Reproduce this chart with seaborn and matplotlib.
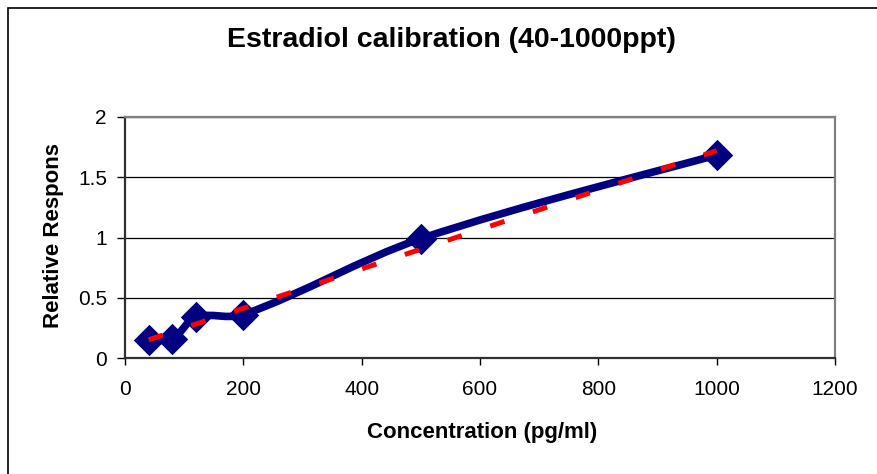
import numpy as np
import matplotlib
matplotlib.use('Agg')
import matplotlib.pyplot as plt
from matplotlib.path import Path
from matplotlib.patches import PathPatch, Rectangle
import seaborn as sns

# Data
concentration = [40, 80, 120, 200, 500, 1000]
response = [0.15, 0.16, 0.34, 0.36, 0.99, 1.685]
x_ticks = [0, 200, 400, 600, 800, 1000, 1200]
y_ticks = [0, 0.5, 1, 1.5, 2]
y_tick_labels = ['0', '0.5', '1', '1.5', '2']

sns.set_style('white')
plt.rcParams['font.family'] = ['Liberation Sans', 'DejaVu Sans']
plt.rcParams.update({'text.color': 'black', 'axes.labelcolor': 'black',
                     'xtick.color': 'black', 'ytick.color': 'black'})

navy = '#000080'

fig = plt.figure(figsize=(8.77, 4.74), dpi=100)
ax = fig.add_axes([125 / 877, 116 / 474, 710 / 877, 241 / 474])
ax.set_xlim(0, 1200)
ax.set_ylim(0, 2)

# Smoothed line (Excel-like bezier), tangents scaled by neighbouring segment lengths in screen space
sx, sy = 710 / 1200, 241 / 2
pts = np.column_stack([concentration, response]).astype(float)
scr = pts * [sx, sy]
n = len(pts)
seg = np.hypot(*np.diff(scr, axis=0).T)
verts = [pts[0]]
codes = [Path.MOVETO]
for i in range(n - 1):
    a = pts[max(i - 1, 0)]
    b = pts[min(i + 2, n - 1)]
    d_prev = seg[i - 1] if i > 0 else seg[i]
    d_next = seg[i + 1] if i < n - 2 else seg[i]
    k1 = seg[i] / (d_prev + seg[i]) / 3
    k2 = seg[i] / (seg[i] + d_next) / 3
    verts += [pts[i] + (pts[i + 1] - a) * k1, pts[i + 1] - (b - pts[i]) * k2, pts[i + 1]]
    codes += [Path.CURVE4] * 3
ax.add_patch(PathPatch(Path(verts, codes), facecolor='none', edgecolor=navy,
                       lw=5.5, capstyle='round', joinstyle='round', zorder=2))

# Markers
sns.scatterplot(x=concentration, y=response, marker='D', s=16 ** 2,
                color=navy, edgecolor=navy, linewidth=0, zorder=3, ax=ax)

# Linear trendline
sns.regplot(x=concentration, y=response, scatter=False, ci=None, truncate=True,
            line_kws=dict(color='red', lw=3.6, ls=(0, (3, 6)), zorder=4), ax=ax)

ax.set_xlim(0, 1200)
ax.set_ylim(0, 2)
ax.set_xticks(x_ticks)
ax.set_yticks(y_ticks)
ax.set_yticklabels(y_tick_labels)
ax.tick_params(axis='both', direction='out', labelsize=15, colors='black')
ax.tick_params(axis='y', length=6, width=1, pad=7, left=True)
ax.tick_params(axis='x', length=5, width=1, pad=11, bottom=True)
ax.grid(axis='y', color='black', lw=0.9)
ax.grid(axis='x', visible=False)
ax.set_axisbelow(True)

for side in ['top', 'right']:
    ax.spines[side].set_color('#808080')
    ax.spines[side].set_linewidth(1.6)
for side in ['left', 'bottom']:
    ax.spines[side].set_color('#303030')
    ax.spines[side].set_linewidth(1.6)

ax.set_xlabel('Concentration (pg/ml)', fontsize=16, fontweight='bold')
ax.xaxis.label.set_va('center')
ax.xaxis.set_label_coords(0.503, -0.311)
ax.set_ylabel('Relative Respons', fontsize=16, fontweight='bold')
ax.yaxis.label.set(va='center', ha='center', rotation_mode='anchor')
ax.yaxis.set_label_coords(-0.1, 0.51)

fig.text(451 / 877, 1 - 40 / 474, 'Estradiol calibration (40-1000ppt)',
         ha='center', va='center', fontsize=20.5, fontweight='bold')

# Chart border (left and top visible)
fig.add_artist(Rectangle((8 / 877, -0.5), 2, 1.5 - 8 / 474, transform=fig.transFigure,
                         fill=False, edgecolor='black', lw=1.2))

fig.savefig('out.png', dpi=100)
